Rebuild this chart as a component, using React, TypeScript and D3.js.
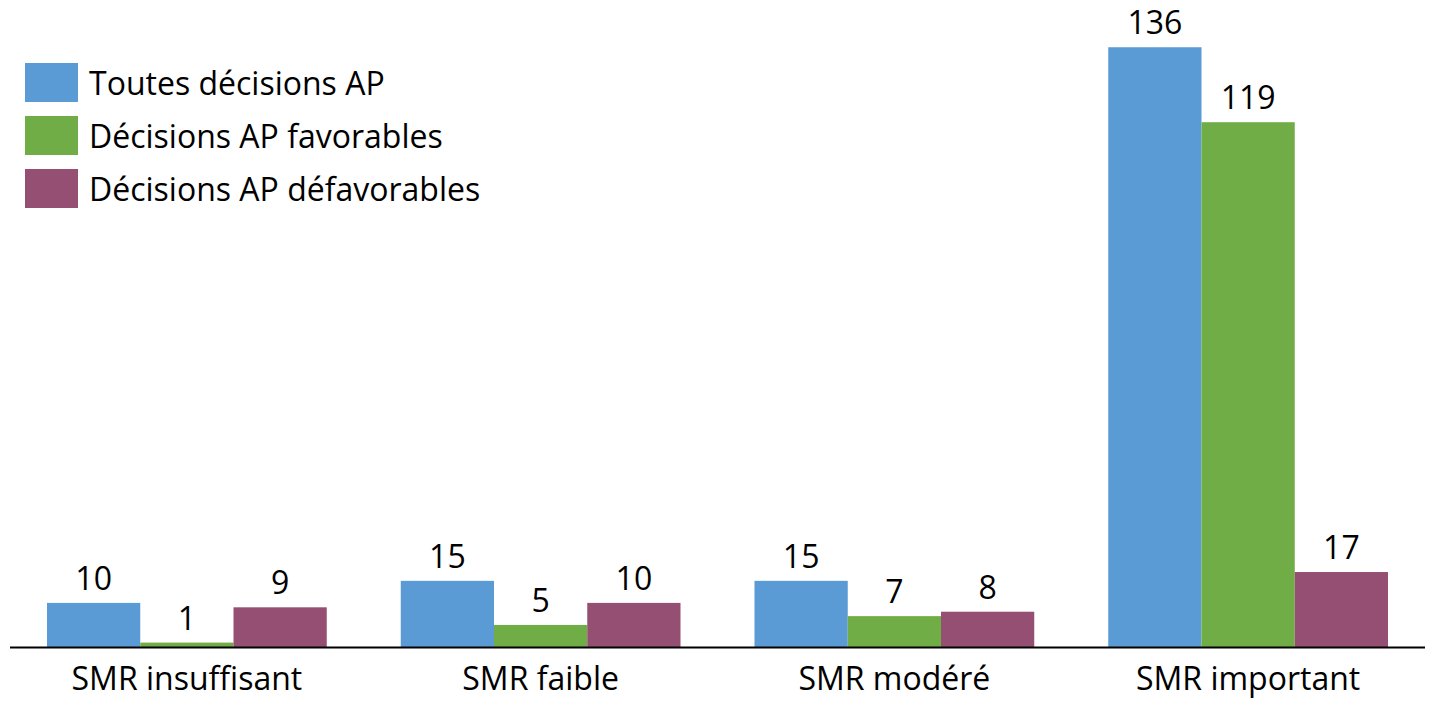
import React, { useEffect, useRef } from 'react';
import * as d3 from 'd3';

const categories = ['SMR insuffisant', 'SMR faible', 'SMR modéré', 'SMR important'];
const seriesNames = ['Toutes décisions AP', 'Décisions AP favorables', 'Décisions AP défavorables'];
const allDecisions = [10, 15, 15, 136];
const favorable = [1, 5, 7, 119];
const unfavorable = [9, 10, 8, 17];
const colors = ['#5B9BD5', '#70AD47', '#954F72'];

const WIDTH = 1438;
const HEIGHT = 705;
const FONT = '"Open Sans", Lato, sans-serif';
const FONT_SIZE = 32;

export default function App() {
  const ref = useRef<SVGSVGElement>(null);

  useEffect(() => {
    if (!ref.current) return;
    document.body.style.margin = '0';
    const svg = d3.select(ref.current);
    svg.selectAll('*').remove();

    const values = [allDecisions, favorable, unfavorable];
    const baseline = 647;

    const x = d3.scaleBand<string>()
      .domain(categories)
      .range([10, 1425])
      .padding(0);

    const inner = d3.scaleBand<string>()
      .domain(seriesNames)
      .range([37, x.bandwidth() - 37])
      .padding(0);

    const y = d3.scaleLinear()
      .domain([0, 136])
      .range([baseline, baseline - 136 * 4.41]);

    const data = categories.flatMap((c, i) =>
      seriesNames.map((s, j) => ({ cat: c, series: s, idx: j, value: values[j][i] }))
    );

    const g = svg.append('g');

    g.selectAll('rect.bar')
      .data(data)
      .enter()
      .append('rect')
      .attr('class', 'bar')
      .attr('x', d => (x(d.cat) || 0) + (inner(d.series) || 0))
      .attr('y', d => y(d.value))
      .attr('width', inner.bandwidth())
      .attr('height', d => baseline - y(d.value))
      .attr('fill', d => colors[d.idx]);

    // value labels
    g.selectAll('text.val')
      .data(data)
      .enter()
      .append('text')
      .attr('class', 'val')
      .attr('x', d => (x(d.cat) || 0) + (inner(d.series) || 0) + inner.bandwidth() / 2)
      .attr('y', d => y(d.value) - 13)
      .attr('text-anchor', 'middle')
      .attr('font-family', FONT)
      .attr('font-size', FONT_SIZE)
      .attr('fill', '#000')
      .text(d => d.value);

    // axis line
    g.append('line')
      .attr('x1', 10)
      .attr('x2', 1425)
      .attr('y1', baseline + 0.5)
      .attr('y2', baseline + 0.5)
      .attr('stroke', '#000')
      .attr('stroke-width', 2);

    // category labels
    g.selectAll('text.cat')
      .data(categories)
      .enter()
      .append('text')
      .attr('class', 'cat')
      .attr('x', d => (x(d) || 0) + x.bandwidth() / 2)
      .attr('y', 690)
      .attr('text-anchor', 'middle')
      .attr('font-family', FONT)
      .attr('font-size', FONT_SIZE)
      .attr('fill', '#000')
      .text(d => d);

    // legend
    const legend = g.selectAll('g.leg')
      .data(seriesNames)
      .enter()
      .append('g')
      .attr('class', 'leg')
      .attr('transform', (_, i) => `translate(25,${63 + i * 53})`);

    legend.append('rect')
      .attr('width', 53)
      .attr('height', 39)
      .attr('fill', (_, i) => colors[i]);

    legend.append('text')
      .attr('x', 64)
      .attr('y', 32)
      .attr('font-family', FONT)
      .attr('font-size', FONT_SIZE)
      .attr('fill', '#000')
      .text(d => d);
  }, []);

  return <svg ref={ref} width={WIDTH} height={HEIGHT} style={{ display: 'block' }} />;
}
